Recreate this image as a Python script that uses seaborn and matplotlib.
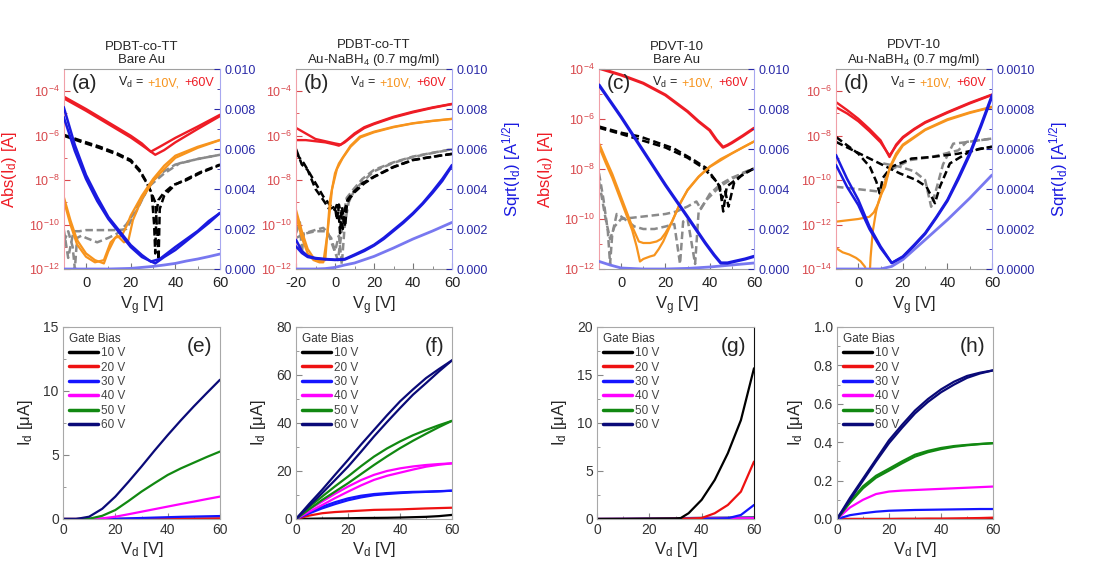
import numpy as np
import matplotlib
matplotlib.use('Agg')
import matplotlib.pyplot as plt
import seaborn as sns
from matplotlib.offsetbox import TextArea, HPacker, AnchoredOffsetbox
from matplotlib.ticker import FixedLocator, FuncFormatter, MultipleLocator, FormatStrFormatter, NullFormatter

sns.set_style('ticks')
plt.rcParams['font.family'] = ['Liberation Sans', 'DejaVu Sans']
plt.rcParams['mathtext.fontset'] = 'custom'
plt.rcParams['mathtext.rm'] = 'Liberation Sans'
plt.rcParams['mathtext.it'] = 'Liberation Sans:italic'
plt.rcParams['mathtext.bf'] = 'Liberation Sans:bold'
plt.rcParams['mathtext.default'] = 'regular'
plt.rcParams['axes.unicode_minus'] = False

# ---------------- DATA (log10 of |Id| for transfer curves, sqrt(Id) in A^1/2) ----------------
# Panel (a) PDBT-co-TT, bare Au
a_red1_vg = [-10, 0, 10, 20, 25, 29, 33, 40, 50, 60]
a_red1_log = [-4.24, -4.8, -5.4, -6.0, -6.35, -6.72, -6.5, -6.1, -5.59, -5.06]
a_red2_vg = [-10, 0, 10, 20, 25, 31, 35, 40, 50, 60]
a_red2_log = [-4.32, -4.88, -5.48, -6.08, -6.43, -6.86, -6.65, -6.3, -5.7, -5.12]
a_or1_vg = [-10, -7, -4, 0, 4, 8, 10, 13, 16, 18, 20, 25, 30, 35, 40, 50, 60]
a_or1_log = [-8.74, -9.8, -10.7, -11.3, -11.6, -11.75, -11.2, -10.6, -10.5, -10.1, -9.6, -8.7, -7.95, -7.35, -6.9, -6.5, -6.19]
a_or2_vg = [-10, -7, -4, 0, 4, 8, 11, 14, 17, 19, 21, 25, 30, 35, 40, 50, 60]
a_or2_log = [-8.9, -10.0, -10.9, -11.45, -11.7, -11.6, -10.8, -10.5, -10.8, -10.7, -9.8, -8.85, -8.05, -7.5, -7.0, -6.55, -6.2]
a_gr1_vg = [-10, -8, -6, -5, -3, 0, 5, 10, 15, 18, 22, 28, 35, 42, 50, 60]
a_gr1_log = [-10.2, -11.5, -10.5, -10.3, -10.3, -10.25, -10.25, -10.25, -10.25, -10.2, -9.5, -8.3, -7.7, -7.24, -7.05, -6.86]
a_gr2_vg = [-10, -8, -6, -5, -4, -2, 0, 5, 10, 14, 18, 22, 26, 30, 35, 40, 50, 60]
a_gr2_log = [-10.8, -10.3, -11.0, -12.0, -10.6, -10.5, -10.6, -10.8, -10.6, -10.4, -10.0, -9.4, -8.7, -8.0, -7.6, -7.3, -7.05, -6.86]
a_bk1_vg = [-10, -3, 6, 14, 20, 24, 27, 29.4, 30.5, 31, 31.5, 32.4, 34.6, 39, 45, 51, 60]
a_bk1_log = [-5.96, -6.2, -6.49, -6.8, -7.09, -7.54, -8.07, -8.6, -10.0, -11.3, -9.5, -8.9, -8.6, -8.22, -8.0, -7.69, -7.32]
a_bk2_vg = [-10, -3, 6, 14, 20, 24, 27, 29, 31, 32, 32.5, 33, 35, 40, 45, 51, 60]
a_bk2_log = [-6.0, -6.25, -6.55, -6.85, -7.15, -7.6, -8.1, -8.5, -9.0, -10.5, -11.6, -9.3, -8.7, -8.2, -7.95, -7.65, -7.3]
a_bl1_vg = [-10, -5, 0, 5, 10, 15, 20, 25, 29, 33, 40, 45, 50, 55, 60]
a_bl1_sq = [0.0081, 0.0062, 0.0047, 0.0036, 0.0026, 0.0019, 0.0012, 0.0007, 0.00037, 0.0005, 0.0011, 0.0015, 0.0019, 0.0024, 0.0028]
a_bl2_vg = [-10, -5, 0, 5, 10, 15, 20, 25, 31, 35, 40, 45, 50, 55, 60]
a_bl2_sq = [0.0076, 0.0059, 0.0045, 0.0034, 0.0025, 0.0018, 0.0011, 0.0006, 0.00028, 0.0006, 0.00095, 0.0014, 0.00185, 0.0023, 0.0028]
a_lb_vg = [-10, 0, 10, 20, 25, 30, 35, 40, 45, 50, 55, 60]
a_lb_sq = [0.0, 0.0, 0.0, 0.00003, 0.00008, 0.00013, 0.0002, 0.00028, 0.0004, 0.0005, 0.00062, 0.00075]

# Panel (b) PDBT-co-TT, Au-NaBH4
b_red1_vg = [-20, -15, -10, -5, 0, 3, 6, 10, 15, 20, 30, 40, 50, 60]
b_red1_log = [-5.65, -5.9, -6.15, -6.25, -6.35, -6.4, -6.2, -5.9, -5.62, -5.45, -5.15, -4.92, -4.73, -4.57]
b_red2_vg = [-20, -15, -10, -5, 0, 2, 5, 10, 15, 20, 30, 40, 50, 60]
b_red2_log = [-6.2, -6.2, -6.25, -6.3, -6.4, -6.45, -6.3, -5.95, -5.66, -5.48, -5.18, -4.95, -4.75, -4.58]
b_or1_vg = [-20, -17, -14, -11, -8, -5, -2.6, 0, 2, 4.3, 8, 12.8, 20, 30, 40, 50, 60]
b_or1_log = [-9.34, -10.3, -11.1, -11.5, -11.65, -11.6, -8.9, -7.69, -7.25, -6.94, -6.45, -6.04, -5.82, -5.6, -5.44, -5.33, -5.24]
b_or2_vg = [-20, -17, -14, -11, -8, -6, -4, -1.5, 1, 4, 8, 13, 20, 30, 40, 50, 60]
b_or2_log = [-9.6, -10.6, -11.3, -11.6, -11.7, -11.7, -10.5, -8.4, -7.5, -7.0, -6.5, -6.08, -5.85, -5.62, -5.45, -5.34, -5.25]
b_bk1_vg = [-20, -16, -13, -9.4, -6, -2.6, -0.2, 1.5, 2.6, 3.5, 4.3, 5.2, 6.3, 8, 9.7, 14, 20, 30, 40, 50, 60]
b_bk1_log = [-6.79, -7.24, -7.69, -8.22, -8.74, -9.12, -9.34, -9.0, -10.39, -9.2, -9.6, -10.1, -8.9, -8.7, -8.52, -8.15, -7.84, -7.4, -7.09, -6.95, -6.82]
b_bk2_vg = [-20, -17, -14, -10, -6, -3, 0, 1, 2, 3, 4, 5, 7, 10, 15, 20, 30, 40, 50, 60]
b_bk2_log = [-6.6, -7.3, -7.55, -8.4, -8.9, -9.3, -9.2, -9.8, -9.1, -9.5, -10.2, -9.3, -8.9, -8.55, -8.15, -7.86, -7.42, -7.1, -6.95, -6.82]
b_gr1_vg = [-20, -18, -17, -16, -14, -10, -6, -3.5, -1, 1.5, 3, 4.3, 6, 9.7, 14, 20, 30, 40, 50, 60]
b_gr1_log = [-10.39, -9.9, -11.3, -10.4, -10.35, -10.24, -10.15, -10.39, -11.0, -11.6, -10.6, -9.6, -8.8, -8.39, -7.95, -7.54, -7.2, -6.94, -6.77, -6.61]
b_gr2_vg = [-20, -15, -10, -5, -2, 0, 2, 3.5, 5, 7, 10, 15, 20, 30, 40, 50, 60]
b_gr2_log = [-10.6, -10.4, -10.3, -10.3, -10.6, -11.2, -10.5, -11.8, -10.0, -9.0, -8.45, -8.0, -7.6, -7.22, -6.96, -6.78, -6.62]
b_bl1_vg = [-20, -17, -14, -10, -5, 0, 5, 10, 15, 20, 25, 30, 35, 40, 45, 50, 55, 60]
b_bl1_sq = [0.00146, 0.0009, 0.00065, 0.00055, 0.0005, 0.00047, 0.0005, 0.00072, 0.00095, 0.00121, 0.00156, 0.00196, 0.00236, 0.0028, 0.0033, 0.00388, 0.0045, 0.0052]
b_bl2_vg = [-20, -17, -14, -10, -5, 0, 5, 10, 15, 20, 25, 30, 35, 40, 45, 50, 55, 60]
b_bl2_sq = [0.00113, 0.0008, 0.0006, 0.00052, 0.00048, 0.00045, 0.00047, 0.00068, 0.0009, 0.00117, 0.0015, 0.0019, 0.0023, 0.00275, 0.00325, 0.0038, 0.0044, 0.00515]
b_lb_vg = [-20, -10, -5, 0, 5, 10, 20, 30, 40, 50, 60]
b_lb_sq = [0.0, 0.0, 0.00002, 0.00008, 0.0002, 0.0003, 0.00063, 0.00105, 0.0015, 0.0019, 0.00233]

# Panel (c) PDVT-10, bare Au
c_red_vg = [-10, 0, 10, 20, 30, 35, 40, 43, 46, 48, 50, 55, 60]
c_red_log = [-3.97, -4.24, -4.57, -5.04, -5.7, -6.1, -6.45, -6.83, -7.13, -7.05, -6.95, -6.67, -6.37]
c_or1_vg = [-10, -7, -4, -1, 2, 5, 8, 10, 13, 16, 18, 20, 23, 26, 30, 35, 40, 45, 50, 55, 60]
c_or1_log = [-6.97, -7.6, -8.2, -8.9, -9.6, -10.3, -10.9, -10.96, -10.96, -10.9, -10.8, -10.56, -10.1, -9.5, -8.83, -8.3, -7.9, -7.6, -7.37, -7.13, -6.9]
c_or2_vg = [-10, -7, -4, -1, 2, 5, 7, 8.5, 10, 13, 15, 17, 19, 21, 24, 27, 30, 35, 40, 50, 60]
c_or2_log = [-7.1, -7.75, -8.35, -9.05, -9.75, -10.45, -11.1, -11.7, -11.6, -11.5, -11.45, -11.2, -10.9, -10.5, -9.9, -9.3, -8.85, -8.32, -7.92, -7.38, -6.9]
c_bk1_vg = [-10, 0, 8.5, 23.6, 32.6, 38.6, 44.6, 46.1, 47.7, 53.7, 60]
c_bk1_log = [-6.3, -6.55, -6.7, -7.17, -7.63, -7.97, -8.7, -9.7, -8.7, -8.3, -7.97]
c_bk2_vg = [-10, 0, 10, 20, 30, 37, 42, 44, 45.5, 47, 48.5, 51, 55, 60]
c_bk2_log = [-6.35, -6.6, -6.87, -7.14, -7.55, -7.95, -8.4, -8.6, -9.2, -8.9, -9.5, -8.55, -8.2, -7.98]
c_gr1_vg = [-10, -8, -6, -5, -4, -2, 0, 3, 6, 10, 15, 20, 24, 26.6, 28, 30, 33.4, 35, 38.6, 44.6, 50, 55, 60]
c_gr1_log = [-8.17, -9.2, -10.5, -11.8, -10.6, -9.8, -9.9, -10.1, -10.3, -10.4, -10.4, -10.3, -10.2, -11.8, -10.1, -10.0, -11.8, -9.7, -9.23, -8.7, -8.4, -8.15, -7.97]
c_gr2_vg = [-10, -7, -5, -3, 0, 5, 10, 15, 20, 25, 30, 32, 34, 36, 40, 45, 50, 60]
c_gr2_log = [-8.5, -10.0, -10.8, -10.3, -10.0, -9.95, -9.9, -9.85, -9.8, -9.7, -9.5, -9.4, -9.3, -9.6, -9.0, -8.6, -8.35, -8.0]
c_bl_vg = [-10, 0, 10, 20, 30, 38, 42, 45, 48, 52, 56, 60]
c_bl_sq = [0.0092, 0.0076, 0.0059, 0.0042, 0.0026, 0.0013, 0.0007, 0.0003, 0.0003, 0.0004, 0.0005, 0.00063]
c_lb_vg = [-10, -5, 0, 10, 20, 30, 40, 50, 60]
c_lb_sq = [0.00038, 0.0002, 0.00005, 0.0, 0.0, 0.00003, 0.0001, 0.0002, 0.0003]

# Panel (d) PDVT-10, Au-NaBH4
d_red1_vg = [-10, -5, 0, 5, 10, 14, 17, 20, 25, 30, 40, 50, 60]
d_red1_log = [-6.49, -6.85, -7.24, -7.7, -8.21, -8.96, -8.4, -8.06, -7.7, -7.39, -6.94, -6.52, -6.15]
d_red2_vg = [-10, -5, 0, 5, 10, 14, 17, 20, 25, 30, 40, 50, 60]
d_red2_log = [-6.72, -7.0, -7.35, -7.8, -8.3, -8.9, -8.45, -8.1, -7.73, -7.42, -6.97, -6.55, -6.17]
d_or1_vg = [-10, 0, 5, 7, 9, 10.5, 12, 14.2, 17, 20, 30, 40, 50, 60]
d_or1_log = [-11.87, -11.75, -11.65, -11.45, -11.04, -10.6, -10.3, -9.4, -8.8, -8.4, -7.72, -7.26, -6.95, -6.7]
d_or2_vg = [-10, -7, -4, -1, 1, 3, 4.5, 5, 5.5, 6.5, 8, 9, 11, 14, 17, 20, 30, 40, 50, 60]
d_or2_log = [-13.06, -13.25, -13.35, -13.5, -13.65, -13.9, -14.5, -14.5, -13.5, -12.3, -11.4, -11.0, -10.4, -9.5, -8.9, -8.45, -7.75, -7.3, -6.98, -6.72]
d_bk1_vg = [-10, 0, 5.2, 8.1, 9.6, 11, 14.9, 23.9, 32.9, 44.9, 52, 60]
d_bk1_log = [-8.06, -8.81, -9.4, -10.07, -10.6, -9.9, -9.4, -9.03, -8.96, -8.81, -8.65, -8.5]
d_bk2_vg = [-10, 3.7, 11.2, 18.7, 26.1, 30.6, 34.4, 36.6, 41.1, 48.6, 54, 60]
d_bk2_log = [-8.28, -8.96, -9.33, -9.7, -10.0, -10.3, -11.04, -10.3, -9.25, -8.8, -8.6, -8.5]
d_gr1_vg = [-10, 3.7, 9.6, 14.2, 23.2, 32.9, 44.9, 48.6, 60]
d_gr1_log = [-10.3, -10.45, -10.52, -9.55, -9.1, -8.96, -8.66, -8.28, -8.13]
d_gr2_vg = [11.2, 18.7, 25, 30, 32.7, 35.3, 38, 42.6, 48, 60]
d_gr2_log = [-9.25, -9.4, -9.6, -10.0, -11.2, -10.3, -9.3, -8.36, -8.3, -8.13]
d_bl1_vg = [-10, -5, 0, 5, 10, 15, 20, 25, 30, 35, 40, 45, 50, 55, 60]
d_bl1_sq = [0.00057, 0.00045, 0.000346, 0.000213, 0.000113, 0.00003, 0.000063, 0.00012, 0.00018, 0.00026, 0.000346, 0.00046, 0.00058, 0.00072, 0.00087]
d_bl2_vg = [-10, -5, 0, 5, 10, 15, 20, 25, 30, 35, 40, 45, 50, 55, 60]
d_bl2_sq = [0.00052, 0.00041, 0.00032, 0.0002, 0.000105, 0.00003, 0.00006, 0.000115, 0.000175, 0.000255, 0.00034, 0.00045, 0.00057, 0.00071, 0.00086]
d_lb_vg = [-10, 0, 10, 15, 20, 30, 40, 50, 60]
d_lb_sq = [0.0, 0.0, 0.0, 0.000013, 0.000047, 0.000146, 0.000246, 0.000354, 0.00047]

# Output curves (Id in uA vs Vd)
gate_labels = ['10 V', '20 V', '30 V', '40 V', '50 V', '60 V']
vd = [0, 5, 10, 15, 20, 25, 30, 35, 40, 45, 50, 55, 60]
e10 = [0, 0, 0, 0, 0, 0, 0, 0, 0.005, 0.005, 0.01, 0.01, 0.01]
e20 = [0, 0, 0, 0, 0, 0.005, 0.01, 0.015, 0.02, 0.03, 0.035, 0.04, 0.05]
e30 = [0, 0, 0, 0, 0.02, 0.05, 0.08, 0.11, 0.14, 0.17, 0.19, 0.21, 0.23]
e40 = [0, 0, 0, 0.05, 0.18, 0.37, 0.57, 0.77, 0.97, 1.17, 1.36, 1.56, 1.75]
e50 = [0, 0, 0.02, 0.25, 0.7, 1.4, 2.14, 2.8, 3.44, 3.95, 4.4, 4.85, 5.27]
e60 = [0, 0, 0.18, 0.8, 1.75, 2.9, 4.1, 5.35, 6.55, 7.7, 8.8, 9.85, 10.88]

f10 = [0, 0.1, 0.2, 0.25, 0.3, 0.4, 0.45, 0.5, 0.6, 0.75, 0.9, 1.2, 1.7]
f20 = [0, 1.4, 2.4, 2.9, 3.2, 3.5, 3.8, 3.9, 4.0, 4.2, 4.4, 4.55, 4.7]
f30a = [0, 2.8, 5.1, 7.0, 8.6, 9.7, 10.4, 10.8, 11.1, 11.3, 11.4, 11.6, 11.8]
f30b = [0, 2.3, 4.4, 6.2, 7.8, 9.0, 9.9, 10.4, 10.8, 11.1, 11.3, 11.5, 11.8]
f40a = [0, 4.0, 7.2, 10.5, 13.5, 16.2, 18.4, 20.0, 21.1, 21.9, 22.5, 22.9, 23.2]
f40b = [0, 3.0, 5.8, 8.7, 11.4, 14.0, 16.3, 18.0, 19.3, 20.6, 21.8, 22.6, 23.2]
f50a = [0, 5.0, 9.3, 13.6, 17.7, 22.0, 26.0, 29.4, 32.3, 34.9, 37.1, 39.1, 40.9]
f50b = [0, 4.0, 7.9, 11.4, 14.9, 18.7, 22.5, 26.1, 29.5, 32.6, 35.5, 38.3, 40.9]
f60a = [0, 6.2, 12.1, 18.4, 24.6, 31.0, 37.1, 43.2, 49.0, 54.0, 58.7, 62.5, 66.1]
f60b = [0, 5.4, 10.7, 16.2, 21.8, 28.0, 34.4, 40.4, 46.2, 51.8, 56.6, 61.5, 66.1]

vd_g = [0, 10, 20, 30, 32, 35, 40, 45, 50, 55, 60]
g10 = [0, 0, 0.02, 0.05, 0.1, 0.6, 2.0, 4.07, 6.85, 10.3, 15.7]
g20 = [0, 0, 0, 0.01, 0.02, 0.03, 0.1, 0.6, 1.46, 2.85, 5.98]
g30 = [0, 0, 0, 0, 0, 0.01, 0.02, 0.03, 0.08, 0.42, 1.46]
g40 = [0, 0.01, 0.02, 0.03, 0.03, 0.04, 0.05, 0.06, 0.07, 0.08, 0.09]
g50 = [0, 0.01, 0.03, 0.05, 0.05, 0.06, 0.07, 0.08, 0.09, 0.1, 0.11]
g60 = [0, 0.02, 0.05, 0.08, 0.09, 0.1, 0.12, 0.13, 0.14, 0.15, 0.16]

h10 = [0, 0, 0, 0, 0, 0, 0, 0, 0, 0, 0, 0, 0]
h20 = [0, 0, 0, 0, 0, 0.001, 0.001, 0.002, 0.002, 0.003, 0.004, 0.005, 0.007]
h30 = [0, 0.02, 0.03, 0.038, 0.043, 0.045, 0.047, 0.048, 0.049, 0.05, 0.051, 0.052, 0.052]
h40 = [0, 0.06, 0.1, 0.13, 0.143, 0.148, 0.151, 0.154, 0.157, 0.16, 0.163, 0.166, 0.169]
h50a = [0, 0.09, 0.17, 0.225, 0.262, 0.3, 0.335, 0.355, 0.37, 0.38, 0.386, 0.391, 0.395]
h50b = [0, 0.085, 0.16, 0.215, 0.252, 0.29, 0.325, 0.348, 0.364, 0.376, 0.384, 0.39, 0.395]
h60a = [0, 0.11, 0.21, 0.31, 0.41, 0.49, 0.565, 0.625, 0.675, 0.715, 0.745, 0.762, 0.774]
h60b = [0, 0.1, 0.2, 0.3, 0.395, 0.475, 0.55, 0.61, 0.66, 0.70, 0.735, 0.758, 0.774]

titles = ['PDBT-co-TT\nBare Au', 'PDBT-co-TT\nAu-NaBH$_4$ (0.7 mg/ml)',
          'PDVT-10\nBare Au', 'PDVT-10\nAu-NaBH$_4$ (0.7 mg/ml)']

# ---------------- STYLE ----------------
RED = '#ee1c25'
ORANGE = '#f7941d'
BLUE = '#1a1ae0'
LBLUE = '#7878f0'
GRAY = '#8a8a8a'
LTICK = '#d8484c'
RTICK = '#2a2aa8'
OUT_COLORS = ['#000000', '#ee1111', '#1515ff', '#ff00ff', '#118811', '#0a0a78']

W, H = 1106, 571
fig = plt.figure(figsize=(W / 100, H / 100), dpi=100)


def rect(l, t, r, b):
    return [l / W, 1 - b / H, (r - l) / W, (b - t) / H]


def line(ax, x, y, color, lw=1.5, ls='-', label=None):
    sns.lineplot(x=np.asarray(x, float), y=np.asarray(y, float), ax=ax, color=color,
                 lw=lw, linestyle=ls, estimator=None, sort=False, label=label,
                 legend=False)


def L(e):
    return 10.0 ** np.asarray(e, float)


DASH = (0, (3.0, 1.5))


def top_panel(r, title, letter, xlim, ylim_exp, lab_exps, sq_max, sq_fmt,
              left_label, right_label, logc, sqc):
    ax = fig.add_axes(rect(*r))
    ax.set_yscale('log')
    ax2 = ax.twinx()
    for (x, y, c, lw, ls) in logc:
        line(ax, x, L(y), c, lw, ls)
    for (x, y, c, lw, ls) in sqc:
        line(ax2, x, y, c, lw, ls)
    ax.set_xlim(*xlim)
    ax.set_ylim(10.0 ** ylim_exp[0], 10.0 ** ylim_exp[1])
    ax.yaxis.set_major_locator(FixedLocator([10.0 ** e for e in lab_exps]))
    ax.yaxis.set_major_formatter(FuncFormatter(lambda v, p: '10$^{%d}$' % int(round(np.log10(v)))))
    minors = [10.0 ** e for e in range(ylim_exp[0], ylim_exp[1] + 1) if e not in lab_exps]
    ax.yaxis.set_minor_locator(FixedLocator(minors))
    ax.yaxis.set_minor_formatter(NullFormatter())
    ax.xaxis.set_major_locator(MultipleLocator(20))
    ax.xaxis.set_minor_locator(MultipleLocator(10))
    ax.tick_params(axis='y', which='major', direction='in', length=4, colors=LTICK, labelsize=9, pad=3)
    ax.tick_params(axis='y', which='minor', direction='in', length=2, colors=LTICK)
    ax.tick_params(axis='x', which='major', direction='in', length=4, color='#777777', labelsize=10.5, labelcolor='#222222', pad=5)
    ax.tick_params(axis='x', which='minor', direction='in', length=2, color='#777777')
    ax2.set_ylim(0, sq_max)
    ax2.yaxis.set_major_locator(MultipleLocator(sq_max / 5))
    ax2.yaxis.set_minor_locator(MultipleLocator(sq_max / 10))
    ax2.yaxis.set_major_formatter(FormatStrFormatter(sq_fmt))
    ax2.tick_params(axis='y', which='major', direction='in', length=4, colors=RTICK, labelsize=9, pad=3)
    ax2.tick_params(axis='y', which='minor', direction='in', length=2, colors=RTICK)
    for s in ['top', 'bottom']:
        ax.spines[s].set_color('#a0a0a0')
        ax2.spines[s].set_visible(False)
    ax.spines['left'].set_color('#f0a0a8')
    ax.spines['right'].set_visible(False)
    ax2.spines['left'].set_visible(False)
    ax2.spines['right'].set_color('#a8a8f0')
    ax.set_xlabel('V$_g$ [V]', fontsize=12, labelpad=3)
    if left_label:
        ax.set_ylabel('Abs(I$_d$) [A]', color=RED, fontsize=12, labelpad=7)
    else:
        ax.set_ylabel('')
    if right_label:
        ax2.set_ylabel('Sqrt(I$_d$) [A$^{1/2}$]', color=BLUE, fontsize=12, labelpad=9)
    else:
        ax2.set_ylabel('')
    ax.set_title(title, fontsize=9.5, pad=4, linespacing=1.15)
    ax2.text(0.05, 0.975, letter, transform=ax.transAxes, ha='left', va='top', fontsize=15)
    t1 = TextArea('V$_d$ =', textprops=dict(color='#222222', size=9))
    t2 = TextArea('+10V,', textprops=dict(color=ORANGE, size=9))
    t3 = TextArea('+60V', textprops=dict(color=RED, size=9))
    box = HPacker(children=[t1, t2, t3], align='baseline', pad=0, sep=3)
    anch = AnchoredOffsetbox(loc='upper right', child=box, pad=0.0, frameon=False,
                             bbox_to_anchor=(1, 1), bbox_transform=ax.transAxes, borderpad=0.45)
    ax2.add_artist(anch)
    return ax, ax2


def logset(vg_list, color, lw, ls):
    return [(x, y, color, lw, ls) for (x, y) in vg_list]


LW_R, LW_O, LW_D, LW_B, LW_LB = 1.7, 1.6, 1.8, 1.8, 2.0

# (a)
top_panel((63.7, 69, 220, 269), titles[0], '(a)', (-10, 60), (-12, -3), [-12, -10, -8, -6, -4],
          0.010, '%.3f', True, False,
          logset([(a_gr1_vg, a_gr1_log), (a_gr2_vg, a_gr2_log)], GRAY, LW_D, DASH)
          + logset([(a_bk1_vg, a_bk1_log), (a_bk2_vg, a_bk2_log)], 'black', LW_D, DASH)
          + logset([(a_or1_vg, a_or1_log), (a_or2_vg, a_or2_log)], ORANGE, LW_O, '-')
          + logset([(a_red1_vg, a_red1_log), (a_red2_vg, a_red2_log)], RED, LW_R, '-'),
          logset([(a_lb_vg, a_lb_sq)], LBLUE, LW_LB, '-')
          + logset([(a_bl1_vg, a_bl1_sq), (a_bl2_vg, a_bl2_sq)], BLUE, LW_B, '-'))

# (b)
top_panel((296, 69, 452, 269), titles[1], '(b)', (-20, 60), (-12, -3), [-12, -10, -8, -6, -4],
          0.010, '%.3f', False, True,
          logset([(b_gr1_vg, b_gr1_log), (b_gr2_vg, b_gr2_log)], GRAY, LW_D, DASH)
          + logset([(b_bk1_vg, b_bk1_log), (b_bk2_vg, b_bk2_log)], 'black', LW_D, DASH)
          + logset([(b_or1_vg, b_or1_log), (b_or2_vg, b_or2_log)], ORANGE, LW_O, '-')
          + logset([(b_red1_vg, b_red1_log), (b_red2_vg, b_red2_log)], RED, LW_R, '-'),
          logset([(b_lb_vg, b_lb_sq)], LBLUE, LW_LB, '-')
          + logset([(b_bl1_vg, b_bl1_sq), (b_bl2_vg, b_bl2_sq)], BLUE, LW_B, '-'))

# (c)
top_panel((599, 69, 754, 269), titles[2], '(c)', (-10, 60), (-12, -4), [-12, -10, -8, -6, -4],
          0.010, '%.3f', True, False,
          logset([(c_gr1_vg, c_gr1_log), (c_gr2_vg, c_gr2_log)], GRAY, LW_D, DASH)
          + logset([(c_bk1_vg, c_bk1_log), (c_bk2_vg, c_bk2_log)], 'black', LW_D, DASH)
          + logset([(c_or1_vg, c_or1_log), (c_or2_vg, c_or2_log)], ORANGE, LW_O, '-')
          + logset([(c_red_vg, c_red_log)], RED, 2.2, '-'),
          logset([(c_lb_vg, c_lb_sq)], LBLUE, LW_LB, '-')
          + logset([(c_bl_vg, c_bl_sq)], BLUE, 2.3, '-'))

# (d)
top_panel((836, 69, 992, 269), titles[3], '(d)', (-10, 60), (-14, -5), [-14, -12, -10, -8, -6],
          0.0010, '%.4f', False, True,
          logset([(d_gr1_vg, d_gr1_log), (d_gr2_vg, d_gr2_log)], GRAY, LW_D, DASH)
          + logset([(d_bk1_vg, d_bk1_log), (d_bk2_vg, d_bk2_log)], 'black', LW_D, DASH)
          + logset([(d_or1_vg, d_or1_log), (d_or2_vg, d_or2_log)], ORANGE, LW_O, '-')
          + logset([(d_red1_vg, d_red1_log), (d_red2_vg, d_red2_log)], RED, LW_R, '-'),
          logset([(d_lb_vg, d_lb_sq)], LBLUE, LW_LB, '-')
          + logset([(d_bl1_vg, d_bl1_sq), (d_bl2_vg, d_bl2_sq)], BLUE, LW_B, '-'))


def bottom_panel(r, letter, ymax, ystep, yfmt, curves, right_dark=False):
    ax = fig.add_axes(rect(*r))
    for (x, ys, i) in curves:
        for k, y in enumerate(ys):
            line(ax, x, y, OUT_COLORS[i], 1.6, '-', gate_labels[i] if k == 0 else None)
    ax.set_xlim(0, 60)
    ax.set_ylim(0, ymax)
    ax.xaxis.set_major_locator(MultipleLocator(20))
    ax.xaxis.set_minor_locator(MultipleLocator(10))
    ax.yaxis.set_major_locator(MultipleLocator(ystep))
    ax.yaxis.set_minor_locator(MultipleLocator(ystep / 2))
    ax.yaxis.set_major_formatter(FormatStrFormatter(yfmt))
    ax.tick_params(which='major', direction='in', length=4, color='#888888', labelsize=10, labelcolor='#333333', pad=3)
    ax.tick_params(which='minor', direction='in', length=2, color='#888888')
    for s in ax.spines.values():
        s.set_color('#a8a8a8')
    if right_dark:
        ax.spines['right'].set_color('#111111')
    ax.set_xlabel('V$_d$ [V]', fontsize=12, labelpad=2)
    ax.set_ylabel('I$_d$ [μA]', fontsize=12, labelpad=6)
    ax.text(0.95, 0.95, letter, transform=ax.transAxes, ha='right', va='top', fontsize=15)
    handles, labels = ax.get_legend_handles_labels()
    order = sorted(range(len(labels)), key=lambda j: gate_labels.index(labels[j]))
    leg = ax.legend([handles[j] for j in order], [labels[j] for j in order], title='Gate Bias',
                    loc='upper left', frameon=False, fontsize=8.5, title_fontsize=8.5,
                    handlelength=2.5, handletextpad=0.2, labelspacing=0.2,
                    borderaxespad=0.3, borderpad=0.2)
    leg._legend_box.align = 'left'
    for t in leg.get_texts():
        t.set_color('#444444')
    leg.get_title().set_color('#333333')
    for h in leg.legend_handles:
        h.set_linewidth(2.5)
    return ax


bottom_panel((63, 327, 220, 519), '(e)', 15, 5, '%d',
             [(vd, [e10], 0), (vd, [e20], 1), (vd, [e30], 2), (vd, [e40], 3), (vd, [e50], 4), (vd, [e60], 5)])
bottom_panel((296, 327, 452, 519), '(f)', 80, 20, '%d',
             [(vd, [f10], 0), (vd, [f20], 1), (vd, [f30a, f30b], 2), (vd, [f40a, f40b], 3),
              (vd, [f50a, f50b], 4), (vd, [f60a, f60b], 5)])
bottom_panel((597, 327, 754, 519), '(g)', 20, 5, '%d',
             [(vd_g, [g60], 5), (vd_g, [g50], 4), (vd_g, [g40], 3), (vd_g, [g30], 2),
              (vd_g, [g20], 1), (vd_g, [g10], 0)], right_dark=True)
bottom_panel((837, 327, 993, 519), '(h)', 1.0, 0.2, '%.1f',
             [(vd, [h10], 0), (vd, [h20], 1), (vd, [h30], 2), (vd, [h40], 3),
              (vd, [h50a, h50b], 4), (vd, [h60a, h60b], 5)])

fig.savefig('out.png', dpi=100)
